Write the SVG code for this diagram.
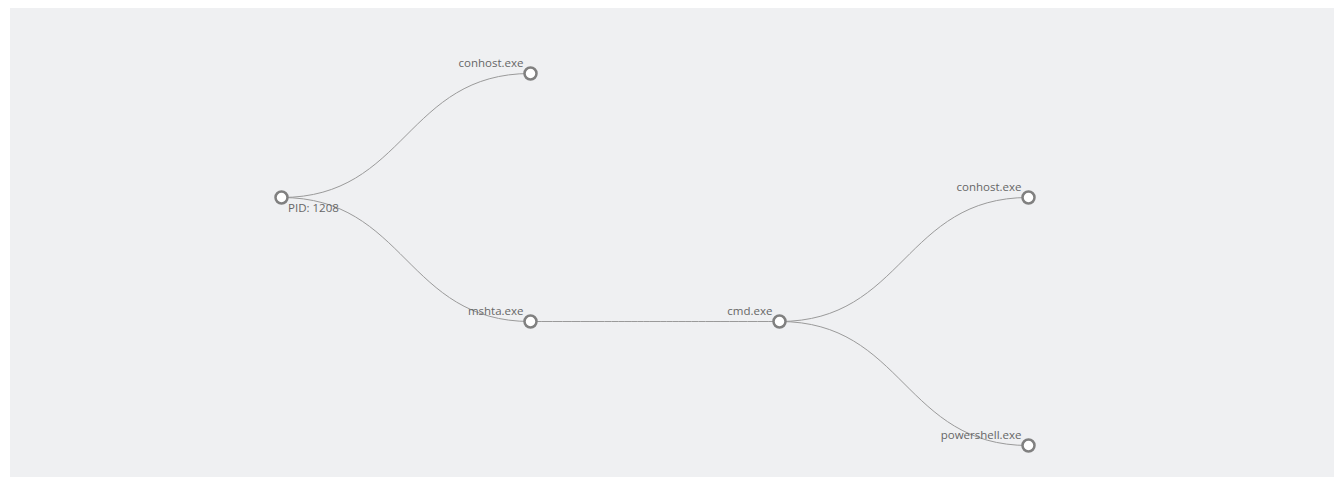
<svg xmlns="http://www.w3.org/2000/svg" width="1336" height="478" viewBox="0 0 1336 478">
<style>
.bg{fill:#eff0f2}
.link{fill:none;stroke:#9a9a9a;stroke-width:1}
.node circle{fill:#ffffff;stroke:#808080;stroke-width:2.5}
.node text{font-family:"Open Sans","Liberation Sans",sans-serif;font-size:11.5px;fill:#666666}
.end{text-anchor:end}
</style>
<rect x="0" y="0" width="1336" height="478" fill="#ffffff"/>
<rect class="bg" x="10" y="8" width="1324" height="469"/>
<g id="links">
<path class="link" d="M281.5,197.5 C406,197.5 406,73.5 530.5,73.5"/>
<path class="link" d="M281.5,197.5 C406,197.5 406,321.5 530.5,321.5"/>
<path class="link" d="M530.5,321.5 C655,321.5 655,321.5 779.5,321.5"/>
<path class="link" d="M779.5,321.5 C904,321.5 904,197.5 1028.5,197.5"/>
<path class="link" d="M779.5,321.5 C904,321.5 904,445.5 1028.5,445.5"/>
</g>
<g id="node-root" class="node"><circle cx="281.5" cy="197.5" r="6"/><text x="288" y="211.5">PID: 1208</text></g>
<g id="node-conhost1" class="node"><circle cx="530.5" cy="73.5" r="6"/><text class="end" x="523.5" y="66.5">conhost.exe</text></g>
<g id="node-mshta" class="node"><circle cx="530.5" cy="321.5" r="6"/><text class="end" x="523.5" y="314.5">mshta.exe</text></g>
<g id="node-cmd" class="node"><circle cx="779.5" cy="321.5" r="6"/><text class="end" x="772.5" y="314.5">cmd.exe</text></g>
<g id="node-conhost2" class="node"><circle cx="1028.5" cy="197.5" r="6"/><text class="end" x="1021.5" y="190.5">conhost.exe</text></g>
<g id="node-powershell" class="node"><circle cx="1028.5" cy="445.5" r="6"/><text class="end" x="1021.5" y="438.5">powershell.exe</text></g>
</svg>
